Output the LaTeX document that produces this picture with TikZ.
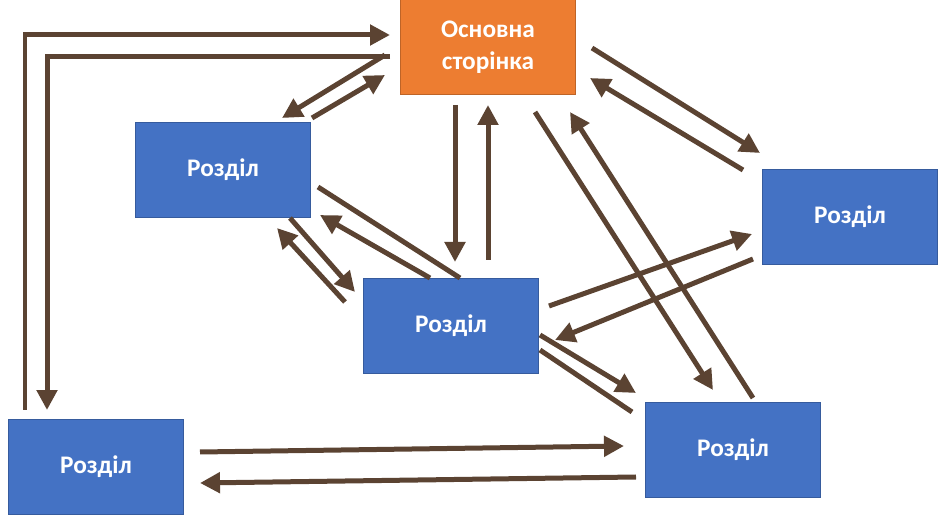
\documentclass[tikz,border=0pt]{standalone}
\usepackage{fontspec}
\setmainfont{Carlito}
\usetikzlibrary{arrows.meta}
\definecolor{boxblue}{HTML}{4472C4}
\definecolor{mainorange}{HTML}{ED7D31}
\definecolor{arrowbrown}{HTML}{5B4332}
\tikzset{
  page/.style={draw=boxblue!80!black, fill=boxblue, text=white, font=\bfseries\Large,
               minimum width=3.5cm, minimum height=1.9cm, inner sep=0pt, align=center},
  link/.style={draw=arrowbrown, line width=0.1cm, -{Triangle[length=0.4cm,width=0.4cm]}},
  bare/.style={draw=arrowbrown, line width=0.1cm}
}
\begin{document}
\begin{tikzpicture}[x=0.02cm,y=-0.02cm]
\useasboundingbox (0,0) rectangle (940,516);

\node[page, fill=mainorange, draw=mainorange!80!black] (main) at (488,47) {Основна\\сторінка};
\node[page] (left)  at (223,170) {Розділ};
\node[page] (right) at (850,217) {Розділ};
\node[page] (mid)   at (451,326) {Розділ};
\node[page] (low)   at (96,467)  {Розділ};
\node[page] (far)   at (733,450) {Розділ};

\coordinate (a1) at (25,410);  \coordinate (a2) at (390,35);
\coordinate (b1) at (390,57);  \coordinate (b2) at (47,410);
\draw[link] (a1) |- (a2);
\draw[link] (b1) -| (b2);

\draw[link] (385,55) -- (282,118);
\draw[link] (312,118) -- (385,75);
\draw[link] (455,105) -- (455,262);
\draw[link] (488,260) -- (488,105);

\draw[link] (290,218) -- (355,292);
\draw[link] (345,302) -- (277,228);
\draw[bare] (318,187) -- (460,278);
\draw[link] (430,278) -- (320,215);

\draw[link] (540,335) -- (636,393);
\draw[bare] (540,350) -- (632,412);
\draw[link] (549,306) -- (752,234);
\draw[link] (753,259) -- (555,340);

\draw[link] (535,112) -- (713,390);
\draw[link] (753,398) -- (570,112);
\draw[link] (592,48) -- (760,153);
\draw[link] (743,170) -- (590,78);

\draw[link] (200,452) -- (624,446);
\draw[link] (636,477) -- (200,483);
\end{tikzpicture}
\end{document}
